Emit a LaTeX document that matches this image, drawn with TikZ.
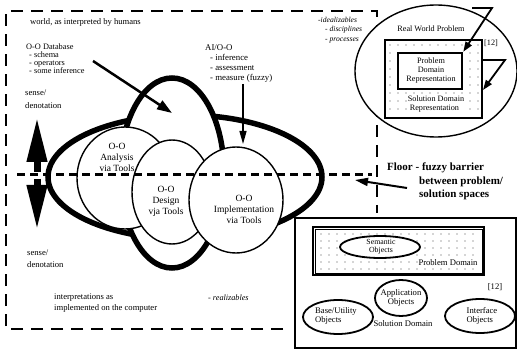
\documentclass[tikz,border=0pt]{standalone}
\usepackage{fontspec}
\setmainfont{Liberation Serif}
\usetikzlibrary{arrows.meta,shapes.geometric}
\begin{document}
\begin{tikzpicture}[x=1pt,y=-1pt,
  cloudline/.style={line width=5.5pt, fill=white},
  bubble/.style={draw, ellipse, line width=1.4pt, fill=white, inner sep=0pt},
  objoval/.style={draw, ellipse, line width=1.8pt, fill=white, inner sep=0pt},
  txt/.style={inner sep=0pt, font=\fontsize{8.6}{12}\selectfont},
  smalltxt/.style={inner sep=0pt, font=\fontsize{8.3}{7.8}\selectfont},
  rtxt/.style={inner sep=0pt, font=\fontsize{8.2}{9}\selectfont},
  btxt/.style={inner sep=0pt, font=\fontsize{8.6}{9.5}\selectfont},
  ctxt/.style={inner sep=0pt, align=center, font=\fontsize{9.5}{11}\selectfont},
  itxt/.style={inner sep=0pt, font=\fontsize{7.6}{9.5}\selectfont\itshape},
  frameline/.style={line width=2.5pt, dash pattern=on 12pt off 8pt},
  floorline/.style={line width=3pt, dash pattern=on 8pt off 5pt},
  dotgrid/.style={fill=black!70},
]
\useasboundingbox (0,0) rectangle (517,350);
\fill[white] (0,0) rectangle (517,350);
\clip (0,0) rectangle (517,350);

% outer dashed frame
\coordinate (fA) at (283,329);
\coordinate (fB) at (6,329);
\coordinate (fC) at (6,11);
\coordinate (fD) at (377,11);
\coordinate (fE) at (377,213);
\draw[frameline] (fA) -- (fB) -- (fC) -- (fD) -- (fE);

% top right: real world problem
\node[draw, ellipse, line width=1.4pt, fill=white, minimum width=162pt, minimum height=132pt] (rwp) at (436,71) {};
\node[rtxt] (rwpt) at (431,29) {Real World Problem};
\node[draw, line width=2pt, minimum width=97pt, minimum height=78pt, inner sep=0pt] (sdr) at (433.5,79) {};
\foreach \x in {390,398,...,478} \foreach \y in {45,53,...,115} \fill[dotgrid] (\x,\y) circle (0.55pt);
\node[draw, line width=2.5pt, fill=white, minimum width=64pt, minimum height=36pt, inner sep=0pt] (pdr) at (430,71) {};
\node[rtxt, align=center] (pdrt) at (431,71) {Problem\\Domain\\Representation};
\node[rtxt, fill=white, inner sep=1pt, align=left] (sdrt) at (436,104) {Solution Domain\\\hspace*{2pt}Representation};
\node[rtxt] (ref1) at (491,43) {[12]};

\coordinate (a1s) at (472,8);
\coordinate (a1m) at (492,8);
\draw[line width=1.8pt, -{Triangle[length=10pt,width=7pt]}] (a1s) -- (a1m) -- (pdr.north east);
\coordinate (a2m) at (505,60);
\coordinate (a2t) at ([yshift=-11pt]sdr.east);
\draw[line width=1.8pt, -{Triangle[length=10pt,width=7pt]}] (sdr.east |- a2m) -- (a2m) -- (a2t);

% cloud
\draw[cloudline] (185,177) ellipse [x radius=137pt, y radius=62pt];
\draw[cloudline] (172,173) ellipse [x radius=52pt, y radius=95pt];

\node[bubble, minimum width=96pt, minimum height=102pt] (ana) at (125,178) {};
\node[ctxt] (anat) at (117,157) {O-O\\Analysis\\via Tools};
\node[bubble, minimum width=80pt, minimum height=104pt] (des) at (172,192) {};
\node[ctxt] (dest) at (166,201) {O-O\\Design\\vja Tools};
\node[bubble, minimum width=94pt, minimum height=106pt] (imp) at (236,200) {};
\node[ctxt] (impt) at (244,209) {O-O\\Implementation\\via Tools};

% sense/denotation arrows
\coordinate (su0) at (37,172);
\coordinate (su1) at (37,117);
\coordinate (sd0) at (37,179);
\coordinate (sd1) at (37,230);
\draw[line width=7pt, -{Triangle[length=45pt,width=19pt]}] (su0) -- (su1);
\draw[line width=7pt, -{Triangle[length=45pt,width=19pt]}] (sd0) -- (sd1);

% floor
\coordinate (flL) at (17,175);
\coordinate (flR) at (372,175);
\draw[floorline] (flL) -- (flR);

% texts left
\node[txt, anchor=west] (world) at (30,22) {world, as interpreted by humans};
\node[smalltxt, anchor=north west, align=left] (db) at (26,44) {O-O Database\\\hspace*{3pt}- schema\\\hspace*{3pt}- operators\\\hspace*{3pt}- some inference};
\node[txt, anchor=north west, align=left, font=\fontsize{8.6}{13}\selectfont] (sense1) at (25,90) {sense/\\denotation};
\node[txt, anchor=north west, align=left, font=\fontsize{8.6}{11.5}\selectfont] (sense2) at (27,250) {sense/\\denotation};
\node[txt, anchor=north west, align=left, font=\fontsize{8.6}{11}\selectfont] (interp) at (54,294) {interpretations as\\implemented on the computer};
\node[itxt, anchor=west, font=\fontsize{8.2}{9.5}\selectfont\itshape] (real) at (208,298) {- realizables};
\node[txt, anchor=north west, align=left, font=\fontsize{8.8}{10}\selectfont] (ai) at (205,44) {AI/O-O\\\hspace*{5pt}- inference\\\hspace*{5pt}- assessment\\\hspace*{5pt}- measure (fuzzy)};
\node[itxt, anchor=north west, align=left] (ideal) at (318,17) {-idealizables\\\hspace*{7pt}- disciplines\\\hspace*{7pt}- processes};

% arrows into cloud
\coordinate (dbA) at (93,61);
\coordinate (dbB) at (172,113);
\draw[line width=2.5pt, -{Triangle[length=15pt,width=10pt]}] (dbA) -- (dbB);
\coordinate (aiA) at (243,84);
\coordinate (aiB) at (243,144);
\draw[line width=1.3pt, -{Triangle[length=13pt,width=7pt]}] (aiA) -- (aiB);

% floor label
\node[inner sep=0pt, anchor=north west, align=left, font=\fontsize{11}{13.5}\selectfont\bfseries] (floort) at (387,163) {Floor - fuzzy barrier\\\hspace*{32pt}between problem/\\\hspace*{32pt}solution spaces};
\coordinate (flA) at (407,188);
\coordinate (flB) at (355,180);
\draw[line width=2pt, -{Triangle[length=13pt,width=8pt]}] (flA) -- (flB);

% bottom right box
\node[draw, line width=2pt, minimum width=221pt, minimum height=130pt, inner sep=0pt] (sol) at (405.5,283) {};
\node[draw, line width=2pt, minimum width=171pt, minimum height=48pt, inner sep=0pt] (pd) at (398.5,251) {};
\draw[line width=0.6pt] ([xshift=3pt,yshift=-3pt]pd.north west) rectangle ([xshift=-3pt,yshift=3pt]pd.south east);
\foreach \x in {321,329,...,477} \foreach \y in {234,241,...,269} \fill[dotgrid] (\x,\y) circle (0.55pt);
\node[objoval, minimum width=80pt, minimum height=22pt] (sem) at (380,247) {};
\node[btxt, align=center, font=\fontsize{7.8}{8}\selectfont] (semt) at (381,247) {Semantic\\Objects};
\node[btxt, fill=white, inner sep=1pt] (pdt) at (448,263) {Problem Domain};
\node[btxt] (ref2) at (495,287) {[12]};
\node[objoval, minimum width=52pt, minimum height=36pt] (app) at (401,298) {};
\node[btxt, align=center] (appt) at (401,298) {Application\\Objects};
\node[objoval, minimum width=70pt, minimum height=34pt] (base) at (338,317) {};
\node[btxt, align=left] (baset) at (336,316) {Base/Utility\\Objects};
\node[objoval, minimum width=70pt, minimum height=34pt] (intf) at (480,316) {};
\node[btxt, align=left] (intft) at (482,316) {Interface\\Objects};
\node[btxt] (soldt) at (403,324) {Solution Domain};
\end{tikzpicture}
\end{document}
